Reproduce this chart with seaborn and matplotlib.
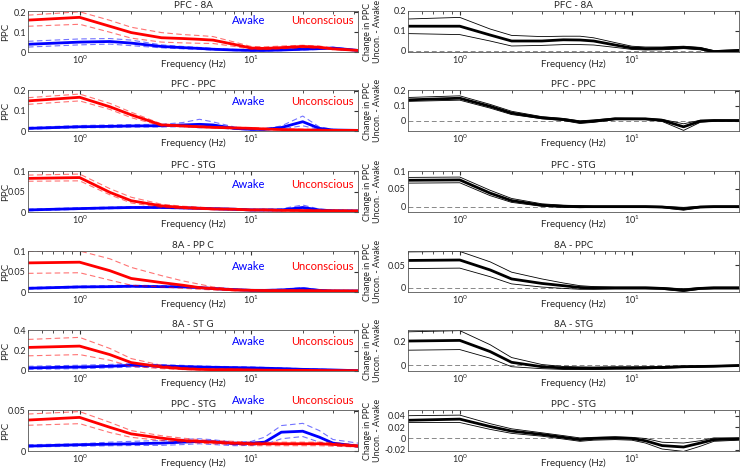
import numpy as np
import pandas as pd
import matplotlib
matplotlib.use("Agg")
import matplotlib.pyplot as plt
import seaborn as sns
from matplotlib.ticker import FuncFormatter

# Frequency grid (Hz)
freq = [0.5, 1, 1.5, 2, 3, 4, 5, 6, 8, 10, 12, 15, 20, 25, 30, 42]

left_titles = ["PFC - 8A", "PFC - PPC", "PFC - STG", "8A - PP C", "8A - ST G", "PPC - STG"]
right_titles = ["PFC - 8A", "PFC - PPC", "PFC - STG", "8A - PPC", "8A - STG", "PPC - STG"]

# Unconscious (red): mean, upper, lower
red_main = [
    [0.161, 0.175, 0.13, 0.098, 0.072, 0.068, 0.064, 0.06, 0.038, 0.02, 0.018, 0.022, 0.028, 0.024, 0.016, 0.008],
    [0.149, 0.167, 0.12, 0.08, 0.03, 0.025, 0.021, 0.018, 0.015, 0.013, 0.01, 0.007, 0.005, 0.004, 0.003, 0.003],
    [0.082, 0.084, 0.048, 0.0275, 0.015, 0.011, 0.009, 0.0075, 0.0067, 0.005, 0.005, 0.004, 0.0035, 0.003, 0.003, 0.0025],
    [0.071, 0.0727, 0.052, 0.033, 0.023, 0.0165, 0.0107, 0.0083, 0.005, 0.0041, 0.0035, 0.0033, 0.0033, 0.003, 0.0028, 0.0025],
    [0.23, 0.243, 0.16, 0.082, 0.039, 0.023, 0.016, 0.013, 0.013, 0.01, 0.008, 0.0066, 0.0066, 0.005, 0.004, 0.003],
    [0.0385, 0.0418, 0.0295, 0.0213, 0.016, 0.0131, 0.0119, 0.011, 0.0098, 0.009, 0.009, 0.009, 0.009, 0.009, 0.0082, 0.0061],
]
red_hi = [
    [0.186, 0.203, 0.16, 0.125, 0.098, 0.088, 0.083, 0.078, 0.05, 0.028, 0.026, 0.03, 0.034, 0.03, 0.02, 0.01],
    [0.165, 0.183, 0.137, 0.093, 0.035, 0.029, 0.025, 0.022, 0.019, 0.017, 0.014, 0.011, 0.009, 0.008, 0.007, 0.006],
    [0.09, 0.0925, 0.057, 0.036, 0.019, 0.014, 0.012, 0.0095, 0.0087, 0.007, 0.007, 0.006, 0.0055, 0.005, 0.005, 0.0045],
    [0.1, 0.1, 0.081, 0.06, 0.04, 0.027, 0.019, 0.0124, 0.0074, 0.006, 0.0055, 0.0052, 0.005, 0.0048, 0.0045, 0.004],
    [0.308, 0.328, 0.22, 0.121, 0.056, 0.033, 0.023, 0.019, 0.018, 0.016, 0.013, 0.011, 0.01, 0.008, 0.007, 0.006],
    [0.046, 0.049, 0.0357, 0.0254, 0.019, 0.016, 0.014, 0.013, 0.012, 0.011, 0.011, 0.011, 0.011, 0.011, 0.0105, 0.0078],
]
red_lo = [
    [0.13, 0.14, 0.10, 0.07, 0.05, 0.046, 0.044, 0.043, 0.028, 0.014, 0.012, 0.016, 0.022, 0.018, 0.012, 0.006],
    [0.132, 0.149, 0.107, 0.066, 0.025, 0.021, 0.018, 0.015, 0.012, 0.01, 0.007, 0.004, 0.002, 0.001, 0.001, 0.001],
    [0.075, 0.076, 0.042, 0.022, 0.011, 0.008, 0.0065, 0.0055, 0.0047, 0.003, 0.003, 0.002, 0.0015, 0.001, 0.001, 0.0005],
    [0.0455, 0.047, 0.029, 0.0165, 0.0124, 0.009, 0.0066, 0.005, 0.003, 0.0025, 0.002, 0.0018, 0.0016, 0.0014, 0.0012, 0.001],
    [0.148, 0.16, 0.105, 0.046, 0.023, 0.014, 0.01, 0.008, 0.007, 0.005, 0.004, 0.003, 0.003, 0.002, 0.001, 0.0],
    [0.032, 0.034, 0.023, 0.017, 0.013, 0.011, 0.0098, 0.009, 0.0078, 0.0066, 0.0066, 0.0066, 0.0066, 0.0066, 0.006, 0.005],
]

# Awake (blue): mean, upper, lower
blue_main = [
    [0.039, 0.05, 0.053, 0.045, 0.028, 0.022, 0.018, 0.014, 0.01, 0.008, 0.008, 0.01, 0.014, 0.017, 0.02, 0.008],
    [0.013, 0.021, 0.023, 0.025, 0.026, 0.03, 0.033, 0.03, 0.013, 0.008, 0.008, 0.017, 0.046, 0.013, 0.005, 0.003],
    [0.005, 0.0083, 0.01, 0.011, 0.011, 0.01, 0.009, 0.008, 0.0067, 0.005, 0.005, 0.005, 0.011, 0.005, 0.003, 0.0025],
    [0.009, 0.0124, 0.013, 0.014, 0.013, 0.0124, 0.0107, 0.0083, 0.0058, 0.0041, 0.004, 0.005, 0.0083, 0.004, 0.0025, 0.0025],
    [0.03, 0.039, 0.046, 0.056, 0.049, 0.043, 0.039, 0.036, 0.033, 0.03, 0.027, 0.023, 0.016, 0.013, 0.01, 0.003],
    [0.0061, 0.0078, 0.0085, 0.009, 0.0098, 0.011, 0.0119, 0.0115, 0.009, 0.0098, 0.011, 0.0234, 0.0246, 0.0172, 0.0098, 0.0061],
]
blue_hi = [
    [0.054, 0.066, 0.068, 0.06, 0.036, 0.028, 0.023, 0.018, 0.013, 0.011, 0.011, 0.013, 0.018, 0.021, 0.024, 0.011],
    [0.018, 0.027, 0.03, 0.032, 0.033, 0.042, 0.058, 0.045, 0.02, 0.011, 0.011, 0.025, 0.074, 0.02, 0.008, 0.005],
    [0.007, 0.0103, 0.012, 0.013, 0.013, 0.012, 0.011, 0.01, 0.0087, 0.007, 0.007, 0.008, 0.017, 0.007, 0.005, 0.0045],
    [0.011, 0.0145, 0.0155, 0.0165, 0.0155, 0.015, 0.013, 0.0105, 0.0075, 0.0055, 0.0055, 0.007, 0.0107, 0.0055, 0.004, 0.004],
    [0.046, 0.056, 0.064, 0.072, 0.062, 0.055, 0.049, 0.046, 0.042, 0.039, 0.035, 0.03, 0.023, 0.018, 0.014, 0.006],
    [0.0078, 0.009, 0.011, 0.012, 0.013, 0.0145, 0.0152, 0.014, 0.011, 0.0119, 0.0172, 0.0316, 0.0344, 0.0254, 0.0143, 0.0098],
]
blue_lo = [
    [0.025, 0.036, 0.04, 0.032, 0.021, 0.016, 0.013, 0.01, 0.007, 0.005, 0.005, 0.007, 0.01, 0.013, 0.016, 0.005],
    [0.009, 0.016, 0.017, 0.019, 0.02, 0.021, 0.016, 0.018, 0.008, 0.005, 0.005, 0.01, 0.026, 0.007, 0.003, 0.001],
    [0.003, 0.0063, 0.008, 0.009, 0.009, 0.008, 0.007, 0.006, 0.0047, 0.003, 0.003, 0.003, 0.006, 0.003, 0.001, 0.0005],
    [0.007, 0.0105, 0.011, 0.012, 0.0115, 0.011, 0.009, 0.0068, 0.0045, 0.003, 0.003, 0.0035, 0.006, 0.003, 0.0015, 0.0015],
    [0.016, 0.023, 0.031, 0.039, 0.033, 0.03, 0.027, 0.025, 0.023, 0.021, 0.019, 0.017, 0.01, 0.008, 0.006, 0.0],
    [0.005, 0.006, 0.0065, 0.0068, 0.007, 0.008, 0.009, 0.008, 0.0066, 0.007, 0.0082, 0.0152, 0.018, 0.011, 0.007, 0.005],
]

# Change in PPC (Uncon. - Awake): mean, upper, lower
diff_main = [
    [0.124, 0.124, 0.08, 0.05, 0.05, 0.056, 0.055, 0.05, 0.03, 0.015, 0.012, 0.013, 0.018, 0.012, -0.003, 0.003],
    [0.138, 0.149, 0.095, 0.05, 0.018, 0.007, -0.01, -0.004, 0.011, 0.011, 0.011, 0.002, -0.042, -0.004, 0.0, 0.0],
    [0.074, 0.075, 0.038, 0.017, 0.004, 0.001, 0.0, 0.0, 0.0, 0.0, 0.0, -0.001, -0.006, -0.001, 0.0, 0.0],
    [0.061, 0.062, 0.04, 0.02, 0.01, 0.005, 0.001, 0.0, 0.0, 0.0, 0.0, -0.001, -0.005, -0.001, 0.0, 0.0],
    [0.2, 0.205, 0.114, 0.026, -0.01, -0.02, -0.022, -0.023, -0.02, -0.02, -0.019, -0.016, -0.01, -0.008, -0.006, 0.0],
    [0.032, 0.034, 0.021, 0.013, 0.007, 0.002, -0.002, 0.0, 0.001, 0.0, -0.004, -0.0125, -0.015, -0.008, -0.002, -0.0006],
]
diff_hi = [
    [0.16, 0.168, 0.11, 0.078, 0.072, 0.074, 0.074, 0.066, 0.042, 0.024, 0.02, 0.02, 0.024, 0.018, 0.002, 0.006],
    [0.154, 0.165, 0.108, 0.062, 0.026, 0.014, -0.002, 0.004, 0.017, 0.016, 0.015, 0.008, -0.022, 0.002, 0.004, 0.003],
    [0.082, 0.083, 0.046, 0.023, 0.008, 0.004, 0.003, 0.002, 0.002, 0.002, 0.002, 0.001, -0.002, 0.001, 0.002, 0.002],
    [0.08, 0.081, 0.058, 0.035, 0.02, 0.011, 0.005, 0.003, 0.002, 0.002, 0.002, 0.001, -0.002, 0.001, 0.002, 0.002],
    [0.275, 0.285, 0.17, 0.065, 0.008, -0.008, -0.012, -0.013, -0.011, -0.011, -0.01, -0.008, -0.004, -0.002, -0.001, 0.004],
    [0.04, 0.041, 0.026, 0.017, 0.01, 0.005, 0.001, 0.002, 0.003, 0.002, 0.0, -0.0066, -0.008, -0.004, 0.001, 0.001],
]
diff_lo = [
    [0.087, 0.082, 0.05, 0.025, 0.028, 0.032, 0.032, 0.03, 0.018, 0.008, 0.005, 0.006, 0.012, 0.006, -0.008, 0.0],
    [0.128, 0.136, 0.083, 0.04, 0.012, 0.0, -0.02, -0.012, 0.006, 0.006, 0.006, -0.006, -0.066, -0.012, -0.004, -0.003],
    [0.066, 0.067, 0.031, 0.012, 0.001, -0.002, -0.003, -0.002, -0.002, -0.002, -0.002, -0.003, -0.01, -0.003, -0.002, -0.002],
    [0.043, 0.044, 0.025, 0.009, 0.002, -0.001, -0.003, -0.003, -0.002, -0.002, -0.002, -0.003, -0.008, -0.003, -0.002, -0.002],
    [0.125, 0.13, 0.06, -0.01, -0.026, -0.032, -0.033, -0.033, -0.03, -0.029, -0.027, -0.024, -0.016, -0.014, -0.011, -0.004],
    [0.028, 0.028, 0.016, 0.009, 0.004, -0.001, -0.005, -0.003, -0.002, -0.003, -0.008, -0.0185, -0.0227, -0.0137, -0.005, -0.003],
]

left_ylims = [(0, 0.207), (0, 0.203), (0, 0.1), (0, 0.1), (0, 0.4), (0, 0.051)]
left_yticks = [[0, 0.1, 0.2], [0, 0.1, 0.2], [0, 0.05, 0.1], [0, 0.05, 0.1], [0, 0.2, 0.4], [0, 0.05]]
right_ylims = [(-0.005, 0.2), (-0.07, 0.204), (-0.015, 0.1), (-0.009, 0.082), (-0.045, 0.29), (-0.022, 0.05)]
right_yticks = [[0, 0.1, 0.2], [0, 0.1, 0.2], [0, 0.05, 0.1], [0, 0.05], [0, 0.2], [-0.02, 0, 0.02, 0.04]]
label_y = [0.76, 0.72, 0.67, 0.63, 0.71, 1.24]

sns.set_style("white")
plt.rcParams['font.family'] = ['Lato', 'DejaVu Sans']
plt.rcParams['mathtext.fontset'] = 'dejavusans'

fig = plt.figure(figsize=(7.4, 4.69), dpi=100)
W, H = 740, 469
row_tops = [11, 90, 171, 251, 330, 410]
ax_h = 41

fmt = FuncFormatter(lambda v, p: "%g" % v)
dash = (0, (5, 3))


def style_axis(ax, ylim, yticks, title):
    ax.set_xscale("log")
    ax.set_xlim(0.5, 42)
    ax.set_ylim(*ylim)
    ax.set_yticks(yticks)
    ax.yaxis.set_major_formatter(fmt)
    ax.tick_params(which="both", direction="in", top=True, right=True,
                   labelsize=6.5, color="#333333", pad=1.5)
    ax.tick_params(which="major", length=3)
    ax.tick_params(which="minor", length=1.8)
    for s in ax.spines.values():
        s.set_color("#555555")
        s.set_linewidth(0.6)
    ax.set_xlabel("Frequency (Hz)", fontsize=7)
    ax.xaxis.set_label_coords(0.5, -0.19)
    ax.set_title(title, fontsize=7, pad=2)


for i in range(6):
    bottom = 1 - (row_tops[i] + ax_h) / H
    axl = fig.add_axes([28 / W, bottom, 330 / W, ax_h / H])
    axr = fig.add_axes([408 / W, bottom, 331 / W, ax_h / H])

    df = pd.DataFrame({
        "freq": freq,
        "red": red_main[i], "red_hi": red_hi[i], "red_lo": red_lo[i],
        "blue": blue_main[i], "blue_hi": blue_hi[i], "blue_lo": blue_lo[i],
        "diff": diff_main[i], "diff_hi": diff_hi[i], "diff_lo": diff_lo[i],
    })

    # left: PPC for both states
    for col, c in [("blue", "#0000ff"), ("red", "#ff0000")]:
        for b in ["_hi", "_lo"]:
            sns.lineplot(data=df, x="freq", y=col + b, ax=axl, color=c,
                         lw=0.8, alpha=0.55, linestyle=dash)
        sns.lineplot(data=df, x="freq", y=col, ax=axl, color=c, lw=2)
    style_axis(axl, left_ylims[i], left_yticks[i], left_titles[i])
    axl.set_ylabel("PPC", fontsize=7)
    axl.yaxis.set_label_coords(-0.055, 0.5)
    axl.text(0.67, label_y[i], "Awake", color="#0000ff", fontsize=8,
             transform=axl.transAxes, ha="center", va="center")
    axl.text(0.892, label_y[i], "Unconscious", color="#ff0000", fontsize=8,
             transform=axl.transAxes, ha="center", va="center")

    # right: difference
    axr.axhline(0, color="#888888", lw=0.7, linestyle=dash)
    sns.lineplot(data=df, x="freq", y="diff_hi", ax=axr, color="black", lw=0.6)
    sns.lineplot(data=df, x="freq", y="diff_lo", ax=axr, color="black", lw=0.6)
    sns.lineplot(data=df, x="freq", y="diff", ax=axr, color="black", lw=2)
    style_axis(axr, right_ylims[i], right_yticks[i], right_titles[i])
    axr.set_ylabel("Change in PPC\nUncon. - Awake", fontsize=6.5,
                   linespacing=1.1)
    axr.yaxis.set_label_coords(-0.08, 0.5)

fig.savefig("out.png", dpi=100)
